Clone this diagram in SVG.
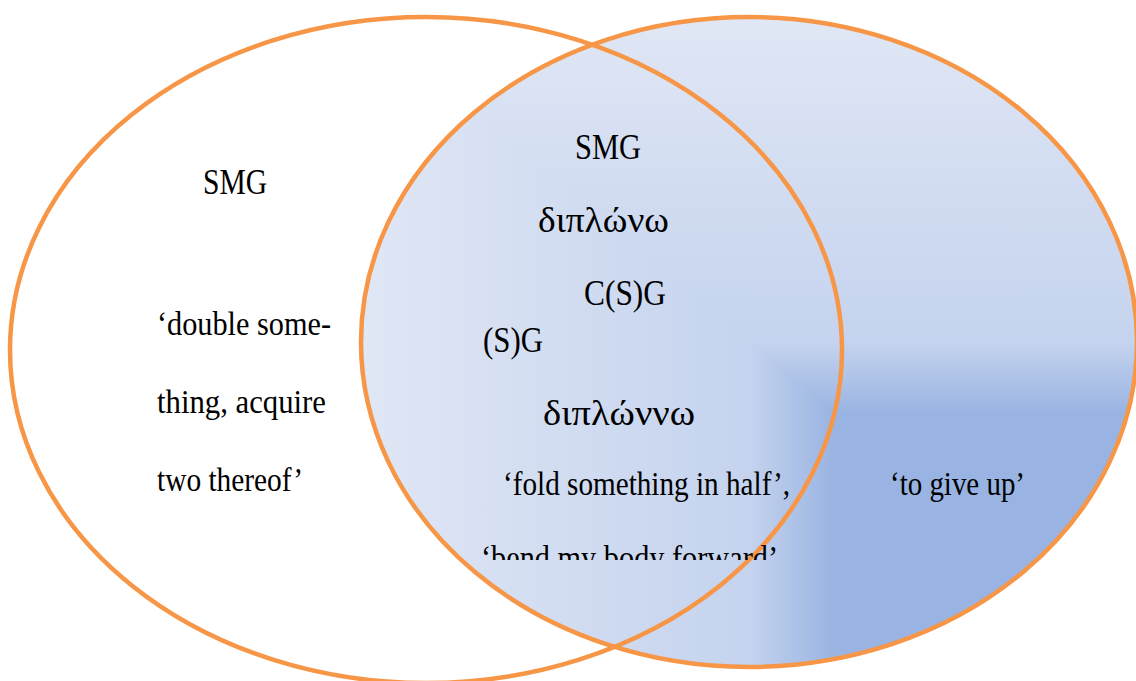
<svg xmlns="http://www.w3.org/2000/svg" width="1136" height="681" viewBox="0 0 1136 681">
  <style>
    .set { fill: none; stroke: #F79646; stroke-width: 4.5; }
    .t { font-family: "Liberation Serif", "DejaVu Serif", serif; font-size: 33px; fill: #000; }
    .big { font-size: 36px; }
    .gr { font-size: 35px; }
  </style>
  <defs>
    <linearGradient id="gH" gradientUnits="userSpaceOnUse" x1="1137" y1="0" x2="361" y2="0">
      <stop offset="0" stop-color="#99B4E2"/>
      <stop offset="0.39" stop-color="#99B4E2"/>
      <stop offset="0.5" stop-color="#C5D3EE"/>
      <stop offset="1" stop-color="#E0E7F5"/>
    </linearGradient>
    <linearGradient id="gV" gradientUnits="userSpaceOnUse" x1="0" y1="667" x2="0" y2="17">
      <stop offset="0" stop-color="#99B4E2"/>
      <stop offset="0.39" stop-color="#99B4E2"/>
      <stop offset="0.5" stop-color="#C5D3EE"/>
      <stop offset="1" stop-color="#E0E7F5"/>
    </linearGradient>
    <clipPath id="rightClip">
      <ellipse cx="749" cy="342" rx="388" ry="325"/>
    </clipPath>
    <clipPath id="lineClip">
      <rect x="0" y="0" width="1136" height="560"/>
    </clipPath>
  </defs>

  <g id="right-set">
    <g clip-path="url(#rightClip)">
      <rect x="361" y="17" width="776" height="650" fill="url(#gV)"/>
      <polygon points="361,17 1137,667 361,667" fill="url(#gH)"/>
    </g>
    <ellipse class="set" cx="749" cy="342" rx="388" ry="325"/>
  </g>

  <g id="left-set">
    <ellipse class="set" cx="426" cy="350" rx="416" ry="333"/>
  </g>

  <g id="left-labels">
    <text class="t big" x="203" y="194" textLength="64" lengthAdjust="spacingAndGlyphs">SMG</text>
    <text class="t" x="157" y="335" textLength="174" lengthAdjust="spacingAndGlyphs">‘double some-</text>
    <text class="t" x="157" y="413" textLength="169" lengthAdjust="spacingAndGlyphs">thing, acquire</text>
    <text class="t" x="157" y="491" textLength="146" lengthAdjust="spacingAndGlyphs">two thereof’</text>
  </g>

  <g id="centre-labels">
    <text class="t big" x="575" y="159" textLength="66" lengthAdjust="spacingAndGlyphs">SMG</text>
    <text class="t gr" x="538" y="232" textLength="131" lengthAdjust="spacingAndGlyphs">διπλώνω</text>
    <text class="t big" x="584" y="305" textLength="82" lengthAdjust="spacingAndGlyphs">C(S)G</text>
    <text class="t big" x="483" y="352" textLength="60" lengthAdjust="spacingAndGlyphs">(S)G</text>
    <text class="t gr" x="543" y="425" textLength="152" lengthAdjust="spacingAndGlyphs">διπλώννω</text>
    <text class="t" x="503" y="495" textLength="287" lengthAdjust="spacingAndGlyphs">‘fold something in half’,</text>
    <text class="t" x="481" y="569" textLength="297" lengthAdjust="spacingAndGlyphs" clip-path="url(#lineClip)">‘bend my body forward’</text>
  </g>

  <g id="right-labels">
    <text class="t" x="890" y="495" textLength="135" lengthAdjust="spacingAndGlyphs">‘to give up’</text>
  </g>
</svg>
